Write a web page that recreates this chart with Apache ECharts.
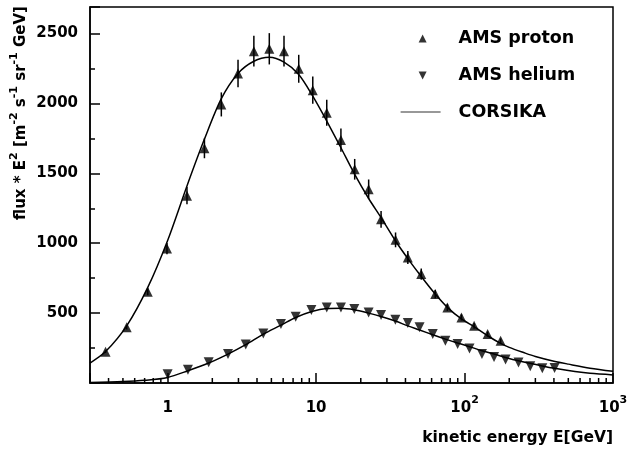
<!DOCTYPE html>
<html>
<head>
<meta charset="utf-8">
<script src="https://cdn.jsdelivr.net/npm/echarts@6/dist/echarts.min.js"></script>
<style>
html,body{margin:0;padding:0;background:#fff;}
#c{width:629px;height:451px;}
</style>
</head>
<body>
<div id="c"></div>
<script>
// ---- data ----
const protonE = [0.382,0.53,0.735,0.99,1.35,1.77,2.30,2.98,3.81,4.84,6.08,7.64,9.5,11.8,14.7,18.2,22.6,27.4,34.3,41.5,51.1,63.5,76.6,95.3,116,143,175];
const protonFlux = [224,398,652,962,1340,1679,1993,2214,2374,2391,2374,2248,2095,1933,1738,1529,1386,1171,1024,898,779,636,541,469,409,350,302];
const protonErr = [10,15,25,40,62,71,86,98,110,112,110,100,97,93,83,74,70,60,53,47,40,30,25,22,20,18,16];

const heliumE = [1.0,1.37,1.89,2.55,3.36,4.41,5.8,7.29,9.3,11.8,14.7,18.1,22.6,27.4,34.2,41.5,49.8,61.1,74.3,89.8,108,131,158,189,231,277,334,404];
const heliumFlux = [62,95,148,207,275,355,422,474,522,541,541,529,505,486,452,429,398,350,302,279,246,207,186,168,146,119,105,107];

const protonCurveE = [0.3,0.382,0.53,0.735,1.0,1.35,1.77,2.3,2.98,3.81,4.84,6.08,7.64,9.5,11.8,14.7,18.2,22.6,27.4,34.3,41.5,51.1,63.5,76.6,95.3,117,143,175,200,250,300,400,500,700,1000];
const protonCurveFlux = [143,225,409,684,1020,1410,1745,2035,2215,2302,2330,2295,2207,2052,1874,1683,1493,1320,1183,1016,890,762,636,541,458,400,338,283,255,218,190,156,135,106,84];

const heliumCurveE = [0.3,0.5,0.7,1.0,1.37,1.89,2.55,3.36,4.41,5.8,7.29,9.35,11.8,14.7,18.1,22.6,27.4,34.2,41.5,49.8,61.1,74.3,89.8,108,131,158,189,231,277,334,404,554,700,1000];
const heliumCurveFlux = [4,10,19,40,88,143,207,274,350,414,469,512,533,535,524,500,476,443,409,379,345,314,286,260,231,207,183,159,141,122,105,82,69,58];

const minorTicksE = [0.4,0.5,0.6,0.7,0.8,0.9,2,3,4,5,6,7,8,9,20,30,40,50,60,70,80,90,200,300,400,500,600,700,800,900];
const yTickLabels = [500,1000,1500,2000,2500];
const legendNames = ['AMS proton', 'AMS helium', 'CORSIKA'];

const FONT = 'DejaVu Sans';
const zip = (a, b) => a.map((v, i) => [v, b[i]]);

const chart = echarts.init(document.getElementById('c'));
const option = {
  animation: false,
  grid: {left: 90, right: 16, top: 7, bottom: 68, show: true, borderColor: '#000', borderWidth: 1.5, outerBoundsMode: 'none'},
  xAxis: [{
    type: 'log', logBase: 10, min: 0.3, max: 1000, splitNumber: 3,
    axisLine: {lineStyle: {color: '#000', width: 1.5}},
    axisTick: {inside: true, length: 10, lineStyle: {color: '#000', width: 1.5}},
    splitLine: {show: false},
    axisLabel: {
      margin: 12, showMinLabel: true, showMaxLabel: true,
      formatter: function (v) {
        const l = Math.log10(v);
        const n = Math.round(l);
        if (Math.abs(l - n) > 1e-6) return '';
        if (n === 0) return '{b|1}';
        if (n === 1) return '{b|10}';
        return '{b|10}{s|' + n + '}';
      },
      rich: {
        b: {fontFamily: FONT, fontWeight: 'bold', fontSize: 15, color: '#000', lineHeight: 26},
        s: {fontFamily: FONT, fontWeight: 'bold', fontSize: 11, color: '#000', lineHeight: 10, verticalAlign: 'top'}
      }
    }
  }],
  yAxis: [{
    type: 'value', min: 0, max: 2690, interval: 500,
    axisLine: {lineStyle: {color: '#000', width: 1.5}},
    axisTick: {inside: true, length: 10, lineStyle: {color: '#000', width: 1.5}},
    splitLine: {show: false},
    axisLabel: {
      margin: 12, fontFamily: FONT, fontWeight: 'bold', fontSize: 15, color: '#000',
      formatter: function (v) { return yTickLabels.indexOf(v) >= 0 ? String(v) : ''; }
    }
  }, {
    type: 'value', min: 0, max: 2690, interval: 250, position: 'left', offset: 0, alignTicks: false,
    axisLine: {show: false},
    axisTick: {inside: true, length: 5, lineStyle: {color: '#000', width: 1.5}},
    splitLine: {show: false},
    axisLabel: {show: false}
  }],
  legend: {
    orient: 'vertical', left: 400, top: 28, padding: 0,
    itemWidth: 40, itemHeight: 9, itemGap: 17, selectedMode: false, symbolRotate: 0,
    textStyle: {fontFamily: FONT, fontWeight: 'bold', fontSize: 17.5, color: '#000', lineHeight: 20, padding: [0, 0, 0, 13]},
    data: [
      {name: legendNames[0], icon: 'path://M0,0M40,0M0,9M40,9M18,9L26,9L22,1Z', itemStyle: {color: '#000'}},
      {name: legendNames[1], icon: 'path://M0,0M40,0M0,9M40,9M18,1L26,1L22,9Z', itemStyle: {color: '#000'}},
      {name: legendNames[2], itemStyle: {opacity: 0}, lineStyle: {color: '#333', width: 1.2}}
    ]
  },
  graphic: [{
    type: 'text', x: 21, y: 113, rotation: Math.PI / 2,
    style: {
      text: '{m|flux * E}{s|2}{m| [m}{s|-2}{m| s}{s|-1}{m| sr}{s|-1}{m| GeV]}',
      align: 'center', verticalAlign: 'middle',
      rich: {
        m: {fontFamily: FONT, fontWeight: 'bold', fontSize: 15, fill: '#000', lineHeight: 24},
        s: {fontFamily: FONT, fontWeight: 'bold', fontSize: 11, fill: '#000', lineHeight: 10, verticalAlign: 'top'}
      }
    }
  }, {
    type: 'text', x: 613, y: 438,
    style: {
      text: 'kinetic energy E[GeV]', align: 'right', verticalAlign: 'middle',
      fontFamily: FONT, fontWeight: 'bold', fontSize: 15.5, fill: '#000'
    }
  }],
  series: [{
    name: 'CORSIKA', type: 'line', data: zip(protonCurveE, protonCurveFlux),
    showSymbol: false, symbol: 'none', smooth: 0.3,
    lineStyle: {color: '#000', width: 1.5}, itemStyle: {color: '#000'}, z: 2
  }, {
    name: 'CORSIKA', type: 'line', data: zip(heliumCurveE, heliumCurveFlux),
    showSymbol: false, symbol: 'none', smooth: 0.3,
    lineStyle: {color: '#000', width: 1.5}, itemStyle: {color: '#000'}, z: 2
  }, {
    name: 'errors', type: 'custom',
    data: protonE.map((e, i) => [e, protonFlux[i] - protonErr[i], protonFlux[i] + protonErr[i]]),
    encode: {x: 0, y: [1, 2]},
    renderItem: function (params, api) {
      const a = api.coord([api.value(0), api.value(1)]);
      const b = api.coord([api.value(0), api.value(2)]);
      return {type: 'line', shape: {x1: a[0], y1: a[1], x2: b[0], y2: b[1]}, style: {stroke: '#000', lineWidth: 1.5}};
    },
    z: 3
  }, {
    name: 'AMS proton', type: 'scatter', data: zip(protonE, protonFlux),
    symbol: 'triangle', symbolSize: [10, 10], itemStyle: {color: '#000'}, z: 4
  }, {
    name: 'AMS helium', type: 'scatter', data: zip(heliumE, heliumFlux),
    symbol: 'triangle', symbolRotate: 180, symbolSize: [10, 10], itemStyle: {color: '#000'}, z: 4
  }, {
    name: 'minorTicks', type: 'custom',
    data: minorTicksE.map(e => [e, 0]),
    encode: {x: 0, y: 1},
    renderItem: function (params, api) {
      const p = api.coord([api.value(0), api.value(1)]);
      return {type: 'line', shape: {x1: p[0], y1: p[1], x2: p[0], y2: p[1] - 5}, style: {stroke: '#000', lineWidth: 1.5}};
    },
    z: 5
  }]
};
chart.setOption(option);
</script>
</body>
</html>
